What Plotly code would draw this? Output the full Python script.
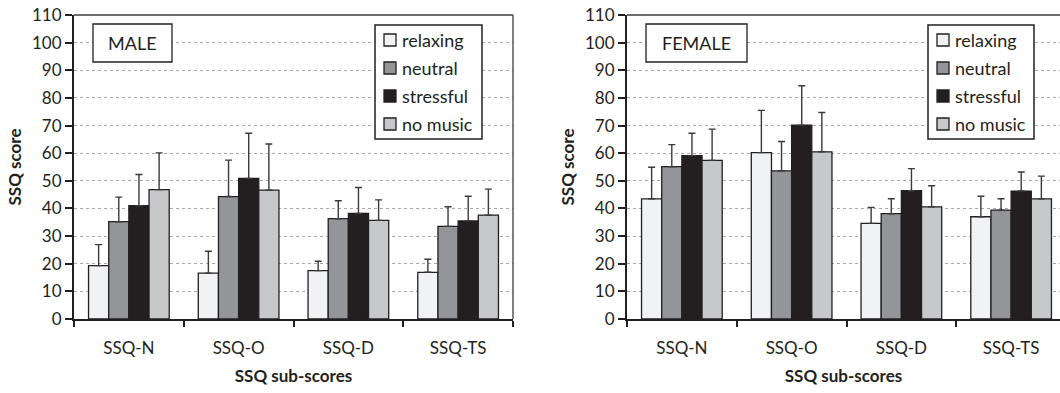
import plotly.graph_objects as go

# ---------------- data ----------------
categories = ["SSQ-N", "SSQ-O", "SSQ-D", "SSQ-TS"]
series_names = ["relaxing", "neutral", "stressful", "no music"]
series_colors = ["#f1f2f3", "#939598", "#231f20", "#c7c8ca"]
y_ticks = [0, 10, 20, 30, 40, 50, 60, 70, 80, 90, 100, 110]

male_relaxing = [19.3, 16.6, 17.5, 16.9]
male_relaxing_sd = [7.6, 7.9, 3.4, 4.7]
male_neutral = [35.2, 44.3, 36.3, 33.5]
male_neutral_sd = [8.9, 13.2, 6.5, 7.1]
male_stressful = [41.0, 50.9, 38.2, 35.5]
male_stressful_sd = [11.3, 16.3, 9.4, 8.9]
male_nomusic = [46.8, 46.6, 35.7, 37.6]
male_nomusic_sd = [13.3, 16.7, 7.4, 9.4]

female_relaxing = [43.5, 60.2, 34.6, 37.0]
female_relaxing_sd = [11.4, 15.3, 5.8, 7.4]
female_neutral = [55.1, 53.6, 38.1, 39.4]
female_neutral_sd = [8.0, 10.6, 5.4, 4.1]
female_stressful = [59.1, 70.1, 46.4, 46.3]
female_stressful_sd = [8.1, 14.3, 8.0, 6.9]
female_nomusic = [57.4, 60.5, 40.6, 43.5]
female_nomusic_sd = [11.3, 14.2, 7.6, 8.2]

male_series = [(male_relaxing, male_relaxing_sd), (male_neutral, male_neutral_sd),
               (male_stressful, male_stressful_sd), (male_nomusic, male_nomusic_sd)]
female_series = [(female_relaxing, female_relaxing_sd), (female_neutral, female_neutral_sd),
                 (female_stressful, female_stressful_sd), (female_nomusic, female_nomusic_sd)]

# ---------------- layout helpers ----------------
W, H = 1060, 393
DARK = "#231f20"
FONT = "Lato"


def fx(px):
    return px / W


def fy(py):
    return 1 - py / H


fig = go.Figure()

for (vals, sd), name, col in zip(male_series, series_names, series_colors):
    fig.add_trace(go.Bar(
        x=categories, y=vals, name=name, xaxis="x", yaxis="y",
        marker=dict(color=col, line=dict(color=DARK, width=1.3)),
        error_y=dict(type="data", symmetric=False, array=sd, arrayminus=[0] * len(sd),
                     color="#3a3a3a", thickness=1.4, width=3.5),
        showlegend=False))

for (vals, sd), name, col in zip(female_series, series_names, series_colors):
    fig.add_trace(go.Bar(
        x=categories, y=vals, name=name, xaxis="x2", yaxis="y2",
        marker=dict(color=col, line=dict(color=DARK, width=1.3)),
        error_y=dict(type="data", symmetric=False, array=sd, arrayminus=[0] * len(sd),
                     color="#3a3a3a", thickness=1.4, width=3.5),
        showlegend=False))

cat_w = (513 - 74) / 4.0
ydom = [fy(319), fy(15)]

xaxis_common = dict(type="category", tickson="boundaries", ticks="outside", ticklen=6,
                    tickwidth=1.5, tickcolor=DARK, showline=True, linecolor=DARK, linewidth=2,
                    showgrid=False, tickfont=dict(family=FONT, size=17, color=DARK),
                    ticklabelstandoff=13, automargin=False,
                    title=dict(text="<b>SSQ sub-scores</b>", font=dict(family=FONT, size=17, color=DARK),
                               standoff=13))
yaxis_common = dict(range=[0, 110], tickvals=y_ticks, ticks="outside", ticklen=7, tickwidth=1.5,
                    tickcolor=DARK, showline=True, linecolor=DARK, linewidth=2,
                    showgrid=True, gridcolor="#a8a8a8", griddash="dot", gridwidth=1,
                    zeroline=False, tickfont=dict(family=FONT, size=17, color=DARK),
                    automargin=False,
                    title=dict(text="<b>SSQ score</b>", font=dict(family=FONT, size=17, color=DARK),
                               standoff=6))

fig.update_layout(
    width=W, height=H, autosize=False,
    margin=dict(l=0, r=0, t=0, b=0),
    paper_bgcolor="white", plot_bgcolor="white",
    barmode="group", bargap=0.265, bargroupgap=0,
    font=dict(family=FONT, color=DARK),
    xaxis=dict(domain=[fx(74), fx(513)], range=[-0.5, 3.5], anchor="y", **xaxis_common),
    yaxis=dict(domain=ydom, anchor="x", **yaxis_common),
    xaxis2=dict(domain=[fx(627), 1.0], range=[-0.5, -0.5 + (W - 627) / cat_w], anchor="y2",
                **xaxis_common),
    yaxis2=dict(domain=ydom, anchor="x2", **yaxis_common),
)

shapes = []
annotations = []

# plot area top/right borders
for xr, yr in [("x domain", "y domain"), ("x2 domain", "y2 domain")]:
    shapes.append(dict(type="line", xref=xr, yref=yr, x0=0, x1=1, y0=1, y1=1,
                       line=dict(color="#3c3c3c", width=1.3)))
shapes.append(dict(type="line", xref="x domain", yref="y domain", x0=1, x1=1, y0=0, y1=1,
                   line=dict(color="#3c3c3c", width=1.3)))

# panel label boxes
for (x0, x1, label) in [(93, 172, "MALE"), (646, 747, "FEMALE")]:
    shapes.append(dict(type="rect", xref="paper", yref="paper", x0=fx(x0), x1=fx(x1),
                       y0=fy(62), y1=fy(24), line=dict(color=DARK, width=1.3), fillcolor="white"))
    annotations.append(dict(xref="paper", yref="paper", x=fx((x0 + x1) / 2), y=fy(43),
                            text=label, showarrow=False, xanchor="center", yanchor="middle",
                            font=dict(family=FONT, size=18, color=DARK)))

# legends
for bx0, bx1 in [(375, 482), (928, 1034)]:
    shapes.append(dict(type="rect", xref="paper", yref="paper", x0=fx(bx0), x1=fx(bx1),
                       y0=fy(139), y1=fy(25), line=dict(color=DARK, width=1.5), fillcolor="white"))
    for i, (name, col) in enumerate(zip(series_names, series_colors)):
        cy = 40 + i * 28
        sx = bx0 + 15
        shapes.append(dict(type="rect", xref="paper", yref="paper", x0=fx(sx - 6), x1=fx(sx + 6),
                           y0=fy(cy + 6), y1=fy(cy - 6), line=dict(color=DARK, width=1.3),
                           fillcolor=col))
        annotations.append(dict(xref="paper", yref="paper", x=fx(bx0 + 25), y=fy(cy),
                                text=name, showarrow=False, xanchor="left", yanchor="middle",
                                font=dict(family=FONT, size=18, color=DARK)))

fig.update_layout(shapes=shapes, annotations=annotations)

fig.write_html("out.html", config={"displayModeBar": False},
               post_script="document.body.style.margin='0';")
